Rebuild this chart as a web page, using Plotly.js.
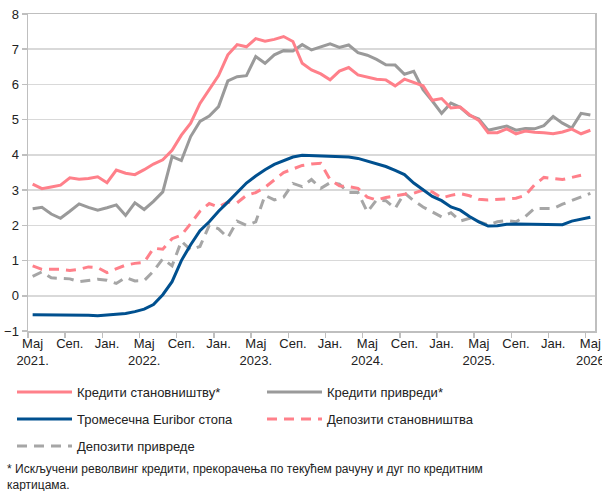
<!DOCTYPE html>
<html><head><meta charset="utf-8">
<script src="https://cdn.plot.ly/plotly-3.0.1.min.js"></script>
<style>html,body{margin:0;padding:0;background:#fff}#chart{width:602px;height:491px}</style>
</head><body><div id="chart"></div><script>
// Months May 2021 .. May 2026 (61 categories)
const months = ['2021-05','2021-06','2021-07','2021-08','2021-09','2021-10','2021-11','2021-12',
'2022-01','2022-02','2022-03','2022-04','2022-05','2022-06','2022-07','2022-08','2022-09','2022-10','2022-11','2022-12',
'2023-01','2023-02','2023-03','2023-04','2023-05','2023-06','2023-07','2023-08','2023-09','2023-10','2023-11','2023-12',
'2024-01','2024-02','2024-03','2024-04','2024-05','2024-06','2024-07','2024-08','2024-09','2024-10','2024-11','2024-12',
'2025-01','2025-02','2025-03','2025-04','2025-05','2025-06','2025-07','2025-08','2025-09','2025-10','2025-11','2025-12',
'2026-01','2026-02','2026-03','2026-04','2026-05'];

const tickMonths = ['2021-05','2021-09','2022-01','2022-05','2022-09','2023-01','2023-05','2023-09',
'2024-01','2024-05','2024-09','2025-01','2025-05','2025-09','2026-01','2026-05'];
const tickLabels = ['Мај<br>2021.','Сеп.','Јан.','Мај<br>2022.','Сеп.','Јан.','Мај<br>2023.','Сеп.',
'Јан.','Мај<br>2024.','Сеп.','Јан.','Мај<br>2025.','Сеп.','Јан.','Мај<br>2026'];

const loansHouseholds = [3.17,3.04,3.09,3.14,3.35,3.31,3.33,3.38,3.21,3.57,3.48,3.44,3.58,
3.74,3.86,4.13,4.56,4.90,5.46,5.87,6.25,6.84,7.13,7.07,7.30,
7.23,7.28,7.36,7.22,6.60,6.41,6.30,6.13,6.38,6.48,6.27,6.22,6.15,
6.13,5.96,6.15,6.05,5.96,5.55,5.60,5.33,5.36,5.14,4.98,
4.63,4.63,4.74,4.60,4.68,4.64,4.63,4.60,4.65,4.73,4.60,4.70];

const loansCorporates = [2.47,2.51,2.32,2.20,2.40,2.61,2.51,2.43,2.50,2.58,2.28,2.64,2.45,
2.68,2.95,3.95,3.84,4.52,4.95,5.10,5.37,6.10,6.22,6.25,6.79,
6.60,6.84,6.96,6.95,7.13,6.98,7.07,7.15,7.05,7.12,6.90,6.83,6.71,
6.56,6.55,6.29,6.37,5.85,5.53,5.18,5.47,5.35,5.12,5.02,
4.70,4.75,4.82,4.70,4.75,4.74,4.83,5.09,4.90,4.76,5.18,5.13];

const euribor3m = [-0.54,-0.54,-0.54,-0.54,-0.54,-0.54,-0.55,-0.57,-0.55,-0.53,-0.50,-0.45,-0.38,
-0.25,0.03,0.40,1.00,1.45,1.85,2.10,2.40,2.66,2.93,3.20,3.40,
3.58,3.73,3.84,3.94,3.99,3.98,3.95,3.94,3.94,3.94,3.90,3.83,3.74,
3.67,3.56,3.44,3.20,3.01,2.82,2.70,2.52,2.43,2.25,2.10,
1.98,1.99,2.03,2.04,2.04,2.04,2.04,2.04,2.02,2.12,2.18,2.23];

const depositsHouseholds = [0.85,0.75,0.75,0.75,0.72,0.75,0.82,0.80,0.66,0.76,0.87,0.92,0.95,
1.35,1.32,1.62,1.72,2.05,2.40,2.62,2.52,2.66,2.64,2.85,2.93,
3.08,3.28,3.50,3.60,3.70,3.74,3.76,3.30,3.12,3.10,3.05,2.80,2.72,
2.79,2.84,2.88,2.91,3.00,2.95,2.78,2.85,2.90,2.84,2.74,
2.72,2.73,2.74,2.77,2.85,3.15,3.36,3.34,3.30,3.36,3.42,null];

const depositsCorporates = [0.55,0.68,0.51,0.50,0.48,0.40,0.44,0.47,0.44,0.35,0.52,0.42,0.43,
0.70,1.05,0.85,1.55,1.30,1.40,2.00,1.90,1.65,2.12,2.00,2.10,
2.85,2.72,2.80,3.19,3.10,3.30,3.05,3.21,3.17,2.93,2.93,2.38,2.72,
2.70,2.48,2.92,2.70,2.52,2.39,2.24,2.36,2.12,2.20,2.10,
2.01,2.10,2.14,2.10,2.25,2.48,2.48,2.48,2.60,2.70,2.82,2.91];

const seriesNames = ['Кредити становништву*','Кредити привреди*','Тромесечна Euribor стопа','Депозити становништва','Депозити привреде'];
const footnote = '* Искључени револвинг кредити, прекорачења по текућем рачуну и дуг по кредитним<br>картицама.';

const xIdx = months.map((m, i) => i);
const tickIdx = tickMonths.map(m => months.indexOf(m));

const PINK = '#ff808a', GRAY = '#9a9a9a', GRAYD = '#a6a6a6', BLUE = '#00508f';
const DASH = '10px,7px';
const FONT = 'Liberation Sans, Arial, sans-serif';

function tr(y, name, color, dash, legend, rank) {
  return {x: xIdx, y: y, name: name, type: 'scatter', mode: 'lines',
    line: {color: color, width: 3, dash: dash}, legend: legend, legendrank: rank, hoverinfo: 'skip'};
}

const tPinkSolid = tr(loansHouseholds, seriesNames[0], PINK, 'solid', 'legend', 1);
const tGraySolid = tr(loansCorporates, seriesNames[1], GRAY, 'solid', 'legend', 2);
const tBlue = tr(euribor3m, seriesNames[2], BLUE, 'solid', 'legend2', 1);
const tPinkDash = tr(depositsHouseholds, seriesNames[3], PINK, DASH, 'legend2', 2);
const tGrayDash = tr(depositsCorporates, seriesNames[4], GRAYD, DASH, 'legend3', 1);
const ordered = [tGrayDash, tPinkDash, tBlue, tGraySolid, tPinkSolid];

const plotW = 567, plotH = 317;
function px2fx(px) { return (px - 28) / plotW; }
function py2fy(py) { return (331 - py) / plotH; }

function legendCfg(rowY) {
  return {orientation: 'h', x: px2fx(12), xanchor: 'left', y: py2fy(rowY), yanchor: 'middle',
    entrywidth: 180, entrywidthmode: 'pixels', itemwidth: 55, traceorder: 'normal',
    font: {family: FONT, size: 13, color: '#222'}, bgcolor: 'rgba(0,0,0,0)', borderwidth: 0};
}

const layout = {
  width: 602, height: 491,
  margin: {l: 28, r: 7, t: 14, b: 160},
  paper_bgcolor: '#fff', plot_bgcolor: '#fff',
  showlegend: true,
  font: {family: FONT, size: 13, color: '#222'},
  xaxis: {
    range: [-0.5, 60.5], tickmode: 'array', tickvals: tickIdx, ticktext: tickLabels,
    ticks: '', showgrid: false, zeroline: false, ticklabeloverflow: 'allow',
    showline: true, linecolor: '#bfbfbf', linewidth: 1.5, mirror: true,
    tickfont: {family: FONT, size: 13, color: '#222'},
    minor: {tick0: -0.5, dtick: 4, ticks: 'outside', ticklen: 5, tickcolor: '#bfbfbf', tickwidth: 1.5, showgrid: false},
    fixedrange: true
  },
  yaxis: {
    range: [-1, 8], dtick: 1, tick0: 0, ticks: 'outside', ticklen: 5, tickcolor: '#bfbfbf', tickwidth: 1.5,
    showgrid: true, gridcolor: '#d9d9d9', gridwidth: 1.5, zeroline: false,
    showline: true, linecolor: '#bfbfbf', linewidth: 1.5, mirror: true,
    tickfont: {family: FONT, size: 13, color: '#222'}, fixedrange: true
  },
  legend: legendCfg(392),
  legend2: legendCfg(419),
  legend3: legendCfg(446),
  annotations: [{
    text: footnote, xref: 'paper', yref: 'paper', x: px2fx(5), y: py2fy(477), xanchor: 'left', yanchor: 'middle',
    align: 'left', showarrow: false, font: {family: FONT, size: 12, color: '#222'}
  }]
};

Plotly.newPlot('chart', ordered, layout, {displayModeBar: false, staticPlot: true});
</script></body></html>
